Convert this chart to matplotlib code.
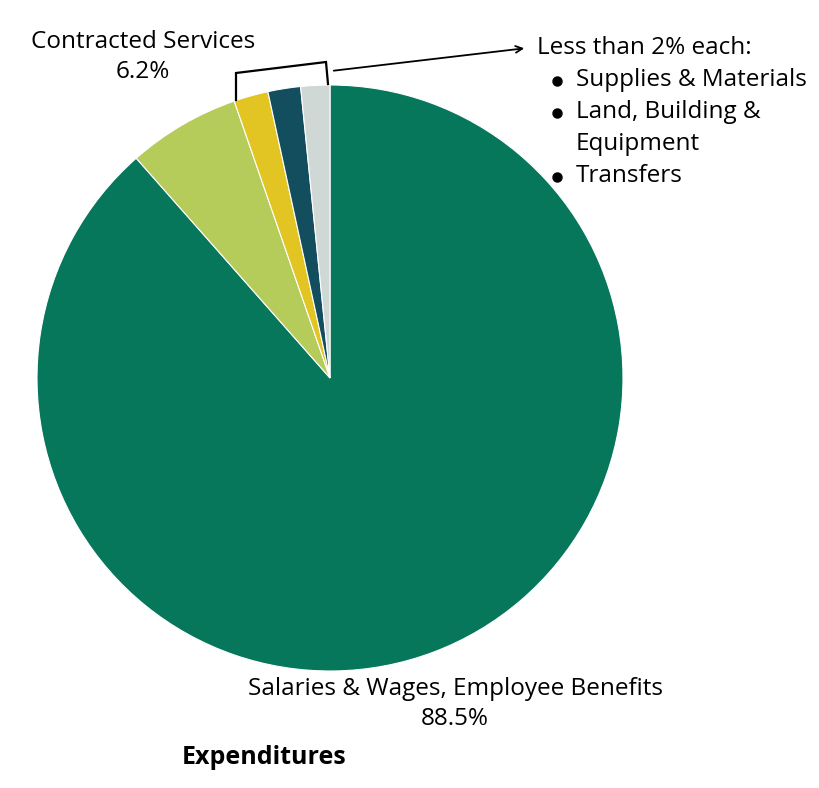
import matplotlib.pyplot as plt
from matplotlib.patches import FancyArrowPatch

categories = ['Salaries & Wages, Employee Benefits', 'Contracted Services',
              'Supplies & Materials', 'Land, Building & Equipment', 'Transfers']
values = [88.5, 6.2, 1.9, 1.8, 1.6]
colors = ['#06775a', '#b5cb5a', '#e2c422', '#124e5e', '#d0d8d6']
small_lines = ['Supplies & Materials', 'Land, Building &', 'Equipment', 'Transfers']
bullet_on = [True, True, False, True]

plt.rcParams['font.family'] = ['Open Sans', 'DejaVu Sans']

W, H = 820, 788
fig = plt.figure(figsize=(W / 100, H / 100), dpi=100)

cx, cy, r = 330, 378, 293
ax = fig.add_axes([(cx - r) / W, (H - cy - r) / H, 2 * r / W, 2 * r / H])
ax.pie(values, colors=colors, startangle=90, counterclock=False, radius=1,
       wedgeprops=dict(edgecolor='white', linewidth=0.8))
ax.set_xlim(-1, 1)
ax.set_ylim(-1, 1)
ax.set_aspect('auto')
ax.axis('off')


def P(x, y):
    return (x / W, 1 - y / H)


fs = 17.5
fig.text(*P(143, 57), f'{categories[1]}\n{values[1]}%', ha='center', va='center',
         fontsize=fs, linespacing=1.3)
fig.text(*P(455, 704), f'{categories[0]}\n{values[0]}%', ha='center',
         va='center', fontsize=fs, linespacing=1.3)
fig.text(*P(182, 758), 'Expenditures', ha='left', va='center', fontsize=18, fontweight='bold')

# bracket over the small slices
bx = [P(236, 100), P(236, 73), P(326, 62), P(328, 84)]
fig.add_artist(plt.Line2D([p[0] for p in bx], [p[1] for p in bx], transform=fig.transFigure,
                          color='black', lw=1.6, solid_joinstyle='miter'))
fig.add_artist(FancyArrowPatch(P(331, 71), P(527, 48), transform=fig.transFigure,
                               arrowstyle='->', mutation_scale=12, color='black', lw=1.3))

fig.text(*P(537, 48), 'Less than 2% each:', ha='left', va='center', fontsize=fs)
for i, (line, b) in enumerate(zip(small_lines, bullet_on)):
    y = 80 + 32 * i
    if b:
        bp = P(557, y + 1)
        fig.add_artist(plt.Line2D([bp[0]], [bp[1]], transform=fig.transFigure,
                                  marker='o', markersize=6.5, color='black', lw=0))
    fig.text(*P(576, y), line, ha='left', va='center', fontsize=fs)

fig.savefig('out.png', dpi=100)
